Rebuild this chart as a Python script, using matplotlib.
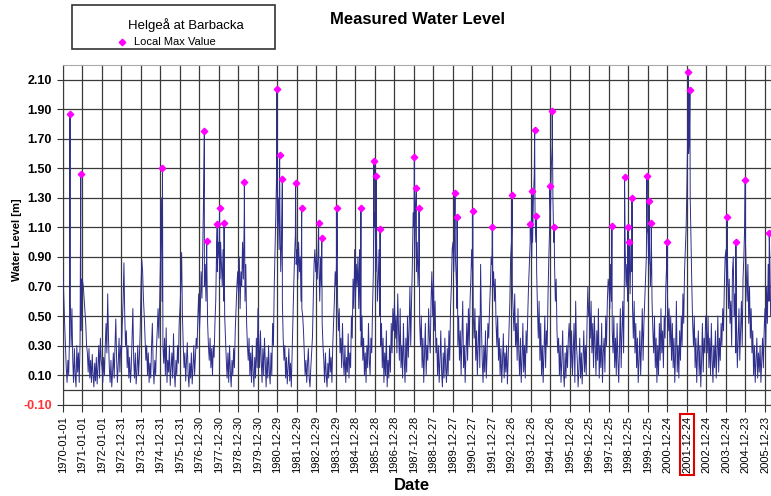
import numpy as np
import matplotlib
matplotlib.use("Agg")
import matplotlib.pyplot as plt
from matplotlib.patches import Rectangle
from matplotlib.lines import Line2D

plt.rcParams['font.family'] = ['Liberation Sans', 'DejaVu Sans']

# x tick labels (one every 365 days from 1970-01-01)
tick_labels = ['1970-01-01', '1971-01-01', '1972-01-01', '1972-12-31', '1973-12-31',
               '1974-12-31', '1975-12-31', '1976-12-30', '1977-12-30', '1978-12-30',
               '1979-12-30', '1980-12-29', '1981-12-29', '1982-12-29', '1983-12-29',
               '1984-12-28', '1985-12-28', '1986-12-28', '1987-12-28', '1988-12-27',
               '1989-12-27', '1990-12-27', '1991-12-27', '1992-12-26', '1993-12-26',
               '1994-12-26', '1995-12-26', '1996-12-25', '1997-12-25', '1998-12-25',
               '1999-12-25', '2000-12-24', '2001-12-24', '2002-12-24', '2003-12-24',
               '2004-12-23', '2005-12-23']
boxed_label = '2001-12-24'

# water level [m], two samples per month
samples_per_year = 24
water_level = [
    0.80, 0.62, 0.45, 0.30, 0.15, 0.05, 0.20, 0.10, 0.35, 0.60, 0.30, 0.55, 0.20, 0.05, 0.28, 0.10, 0.02, 0.30, 0.12, 0.25, 0.05, 0.32, 0.40, 0.75,  # 1970
    0.74, 0.70, 0.62, 0.55, 0.45, 0.30, 0.25, 0.12, 0.28, 0.08, 0.20, 0.05, 0.24, 0.10, 0.02, 0.18, 0.06, 0.22, 0.04, 0.15, 0.30, 0.08, 0.35, 0.20,  # 1971
    0.15, 0.05, 0.22, 0.10, 0.30, 0.45, 0.25, 0.65, 0.35, 0.15, 0.05, 0.20, 0.02, 0.12, 0.25, 0.08, 0.30, 0.48, 0.20, 0.05, 0.18, 0.35, 0.12, 0.30,  # 1972
    0.25, 0.45, 0.60, 0.86, 0.50, 0.30, 0.40, 0.15, 0.30, 0.08, 0.22, 0.05, 0.15, 0.35, 0.55, 0.20, 0.08, 0.25, 0.04, 0.12, 0.30, 0.10, 0.22, 0.40,  # 1973
    0.70, 0.88, 0.80, 0.62, 0.50, 0.35, 0.20, 0.30, 0.10, 0.25, 0.05, 0.18, 0.08, 0.30, 0.45, 0.15, 0.04, 0.20, 0.10, 0.28, 0.40, 0.55, 0.35, 0.60,  # 1974
    0.90, 1.30, 0.60, 0.30, 0.18, 0.35, 0.10, 0.42, 0.05, 0.20, 0.12, 0.30, 0.03, 0.15, 0.25, 0.08, 0.38, 0.12, 0.02, 0.20, 0.10, 0.30, 0.18, 0.45,  # 1975
    0.55, 0.70, 0.93, 0.50, 0.30, 0.15, 0.25, 0.06, 0.20, 0.32, 0.10, 0.02, 0.18, 0.08, 0.25, 0.04, 0.15, 0.30, 0.10, 0.22, 0.35, 0.28, 0.50, 0.65,  # 1976
    0.40, 0.55, 0.80, 0.62, 0.95, 1.30, 0.70, 0.85, 0.60, 0.90, 0.45, 0.30, 0.20, 0.35, 0.15, 0.28, 0.10, 0.30, 0.22, 0.45, 0.60, 0.95, 0.80, 1.00,  # 1977
    0.90, 0.75, 1.00, 0.85, 0.70, 0.95, 0.60, 0.50, 0.35, 0.20, 0.08, 0.25, 0.05, 0.30, 0.12, 0.02, 0.20, 0.10, 0.28, 0.15, 0.40, 0.55, 0.70, 0.80,  # 1978
    0.65, 0.90, 0.55, 0.80, 0.70, 1.00, 0.75, 1.15, 0.60, 0.85, 0.45, 0.30, 0.20, 0.35, 0.10, 0.25, 0.05, 0.30, 0.12, 0.02, 0.22, 0.08, 0.35, 0.15,  # 1979
    0.55, 0.30, 0.15, 0.40, 0.20, 0.05, 0.28, 0.10, 0.35, 0.18, 0.02, 0.22, 0.08, 0.30, 0.12, 0.04, 0.25, 0.10, 0.45, 0.30, 0.70, 0.95, 1.20, 1.50,  # 1980
    1.10, 1.30, 0.95, 1.20, 0.80, 1.00, 0.60, 0.35, 0.20, 0.30, 0.08, 0.22, 0.04, 0.15, 0.28, 0.06, 0.18, 0.02, 0.25, 0.45, 0.70, 0.90, 1.05, 0.85,  # 1981
    0.95, 0.75, 1.00, 0.80, 0.90, 0.60, 0.55, 0.50, 0.40, 0.25, 0.10, 0.20, 0.05, 0.18, 0.28, 0.08, 0.02, 0.15, 0.25, 0.35, 0.60, 0.85, 0.95, 0.80,  # 1982
    0.90, 0.75, 0.95, 0.85, 0.60, 0.90, 0.70, 0.45, 0.30, 0.20, 0.05, 0.25, 0.10, 0.02, 0.18, 0.08, 0.28, 0.12, 0.22, 0.05, 0.30, 0.45, 0.60, 0.80,  # 1983
    0.70, 0.95, 0.60, 0.40, 0.55, 0.25, 0.35, 0.15, 0.45, 0.20, 0.10, 0.30, 0.05, 0.22, 0.12, 0.38, 0.08, 0.25, 0.15, 0.50, 0.35, 0.75, 0.55, 0.95,  # 1984
    0.60, 0.85, 0.70, 0.90, 0.55, 0.95, 0.40, 0.30, 0.50, 0.20, 0.35, 0.10, 0.25, 0.05, 0.30, 0.15, 0.45, 0.20, 0.10, 0.35, 0.25, 0.55, 0.80, 1.10,  # 1985
    1.20, 0.80, 1.00, 0.60, 0.75, 0.95, 0.50, 0.30, 0.45, 0.15, 0.35, 0.05, 0.25, 0.10, 0.40, 0.02, 0.20, 0.08, 0.30, 0.12, 0.45, 0.25, 0.55, 0.40,  # 1986
    0.60, 0.35, 0.50, 0.25, 0.65, 0.40, 0.20, 0.55, 0.15, 0.30, 0.08, 0.45, 0.20, 0.05, 0.35, 0.12, 0.50, 0.22, 0.40, 0.70, 0.30, 0.60, 0.85, 1.20,  # 1987
    1.10, 0.90, 1.25, 0.80, 1.00, 0.70, 0.90, 0.45, 0.30, 0.50, 0.15, 0.35, 0.05, 0.25, 0.45, 0.10, 0.30, 0.20, 0.55, 0.35, 0.25, 0.60, 0.80, 0.50,  # 1988
    0.75, 0.40, 0.60, 0.25, 0.35, 0.10, 0.30, 0.05, 0.20, 0.40, 0.12, 0.02, 0.25, 0.08, 0.35, 0.15, 0.05, 0.28, 0.10, 0.40, 0.20, 0.55, 0.70, 0.95,  # 1989
    1.00, 0.80, 1.10, 0.90, 0.75, 0.55, 0.30, 0.50, 0.20, 0.40, 0.10, 0.35, 0.60, 0.15, 0.30, 0.05, 0.25, 0.45, 0.20, 0.55, 0.30, 0.60, 0.75, 0.95,  # 1990
    0.80, 0.50, 0.35, 0.55, 0.20, 0.40, 0.10, 0.30, 0.50, 0.15, 0.85, 0.45, 0.20, 0.05, 0.30, 0.12, 0.40, 0.08, 0.25, 0.45, 0.35, 0.55, 0.70, 0.90,  # 1991
    0.85, 0.70, 0.80, 0.60, 0.75, 0.45, 0.30, 0.50, 0.20, 0.35, 0.10, 0.28, 0.05, 0.20, 0.38, 0.08, 0.25, 0.12, 0.30, 0.04, 0.22, 0.40, 0.60, 0.90,  # 1992
    1.00, 0.70, 0.55, 0.40, 0.65, 0.30, 0.45, 0.20, 0.55, 0.25, 0.10, 0.35, 0.05, 0.20, 0.45, 0.12, 0.30, 0.08, 0.40, 0.25, 0.50, 0.70, 0.85, 1.00,  # 1993
    1.10, 0.90, 1.00, 1.30, 1.45, 1.20, 1.00, 0.80, 0.55, 0.35, 0.60, 0.20, 0.45, 0.10, 0.30, 0.05, 0.25, 0.50, 0.15, 0.40, 0.30, 0.65, 0.90, 1.10,  # 1994
    1.20, 1.50, 1.65, 1.30, 1.00, 0.85, 0.60, 0.75, 0.40, 0.25, 0.35, 0.10, 0.30, 0.05, 0.20, 0.40, 0.12, 0.02, 0.25, 0.08, 0.30, 0.15, 0.35, 0.45,  # 1995
    0.30, 0.15, 0.40, 0.10, 0.25, 0.45, 0.05, 0.60, 0.30, 0.20, 0.02, 0.15, 0.35, 0.08, 0.25, 0.04, 0.20, 0.40, 0.12, 0.30, 0.10, 0.45, 0.70, 0.50,  # 1996
    0.55, 0.35, 0.60, 0.25, 0.45, 0.15, 0.50, 0.30, 0.10, 0.40, 0.20, 0.55, 0.08, 0.30, 0.15, 0.45, 0.05, 0.25, 0.35, 0.12, 0.50, 0.30, 0.60, 0.75,  # 1997
    0.70, 0.55, 0.85, 0.60, 0.40, 0.25, 0.50, 0.15, 0.35, 0.10, 0.45, 0.20, 0.05, 0.30, 0.55, 0.15, 0.40, 0.60, 0.25, 0.80, 0.95, 0.70, 0.85, 0.60,  # 1998
    0.75, 0.90, 0.65, 1.00, 0.80, 0.55, 0.35, 0.60, 0.25, 0.45, 0.15, 0.35, 0.05, 0.20, 0.40, 0.10, 0.30, 0.55, 0.20, 0.45, 0.60, 0.75, 0.90, 1.10,  # 1999
    1.05, 0.85, 1.00, 0.70, 0.90, 0.60, 0.40, 0.25, 0.50, 0.15, 0.35, 0.05, 0.30, 0.10, 0.45, 0.20, 0.55, 0.25, 0.40, 0.15, 0.50, 0.35, 0.70, 0.85,  # 2000
    0.65, 0.40, 0.55, 0.30, 0.50, 0.20, 0.45, 0.15, 0.35, 0.05, 0.25, 0.60, 0.12, 0.30, 0.08, 0.40, 0.20, 0.50, 0.30, 0.65, 0.45, 0.80, 0.95, 1.10,  # 2001
    1.40, 1.80, 1.60, 1.70, 1.30, 1.00, 0.70, 0.45, 0.30, 0.50, 0.15, 0.35, 0.05, 0.25, 0.40, 0.10, 0.30, 0.02, 0.20, 0.45, 0.12, 0.35, 0.25, 0.50,  # 2002
    0.40, 0.25, 0.50, 0.15, 0.35, 0.10, 0.45, 0.20, 0.05, 0.30, 0.15, 0.40, 0.08, 0.25, 0.50, 0.12, 0.35, 0.20, 0.45, 0.30, 0.55, 0.40, 0.70, 0.90,  # 2003
    0.95, 0.70, 0.85, 0.55, 0.75, 0.45, 0.60, 0.30, 0.80, 0.90, 0.50, 0.65, 0.25, 0.45, 0.15, 0.35, 0.55, 0.20, 0.40, 0.60, 0.30, 0.75, 0.90, 1.10,  # 2004
    1.00, 0.80, 0.60, 0.85, 0.45, 0.70, 0.35, 0.55, 0.25, 0.40, 0.10, 0.30, 0.05, 0.20, 0.35, 0.08, 0.25, 0.12, 0.30, 0.05, 0.20, 0.35, 0.15, 0.40,  # 2005
    0.55, 0.30, 0.70, 0.45, 0.85, 0.60, 0.90, 0.50,  # 2006
]

# local maxima: day number since 1970-01-01 and level [m]
max_day = [131, 332, 1862, 2646, 2690, 2887, 2931, 3015, 3395, 4000,
           4055, 4106, 4354, 4468, 4785, 4844, 5128, 5577, 5822, 5866,
           5935, 6577, 6614, 6665, 7337, 7377, 7669, 8037, 8410, 8745,
           8786, 8829, 8859, 9114, 9158, 9194, 10275, 10512, 10570, 10600,
           10651, 10932, 10976, 11012, 11304, 11706, 11735, 12436, 12596, 12771,
           13220]
max_level = [1.87, 1.46, 1.50, 1.75, 1.01, 1.12, 1.23, 1.13, 1.41, 2.04,
             1.59, 1.43, 1.40, 1.23, 1.13, 1.03, 1.23, 1.23, 1.55, 1.45,
             1.09, 1.58, 1.37, 1.23, 1.33, 1.17, 1.21, 1.10, 1.32, 1.12,
             1.35, 1.76, 1.18, 1.38, 1.89, 1.10, 1.11, 1.44, 1.10, 1.00,
             1.30, 1.45, 1.28, 1.13, 1.00, 2.15, 2.03, 1.17, 1.00, 1.42,
             1.06]

# sample days, then merge the peaks into the line
days = np.arange(len(water_level)) * 365 / samples_per_year
x = np.concatenate([days, max_day])
y = np.concatenate([water_level, max_level])
order = np.argsort(x, kind='stable')
x, y = x[order], y[order]

W, H = 771, 496
fig = plt.figure(figsize=(W / 100, H / 100), dpi=100)
ax = fig.add_axes([63 / W, 1 - 404.6 / H, 1 - 63 / W, (404.6 - 65) / H])

ax.plot(x, y, color='#2E2E8C', lw=0.7, zorder=3)
ax.plot(max_day, max_level, 'D', color='#FF00FF', ms=3.3, zorder=4, clip_on=False)

ax.set_xlim(0, 13253)
ax.set_ylim(-0.10, 2.20)

yt = np.arange(-0.10, 2.11, 0.2)
ax.set_yticks(yt)
ax.set_yticklabels(['%.2f' % v for v in yt], fontweight='bold', fontsize=9)
ax.get_yticklabels()[0].set_color('#FF3333')
ax.set_xticks(np.arange(len(tick_labels)) * 365)
ax.set_xticklabels(tick_labels, rotation=90, fontsize=8)
for lab in ax.get_xticklabels():
    if lab.get_text() == boxed_label:
        lab.set_bbox(dict(facecolor='none', edgecolor='#E00000', lw=1.5, pad=1.5))

ax.tick_params(axis='y', length=4, pad=4, color='#333333')
ax.tick_params(axis='x', length=5, pad=3, color='#333333')
ax.grid(True, color='#3a3a3a', lw=0.9, zorder=1)
ax.axhline(0, color='#3a3a3a', lw=0.9, zorder=1)
ax.set_axisbelow(True)

ax.spines['right'].set_visible(False)
ax.spines['top'].set_color('#aaaaaa')
ax.spines['left'].set_color('#3a3a3a')
ax.spines['bottom'].set_color('#3a3a3a')

# legend box drawn by hand
fig.add_artist(Rectangle((72 / W, 1 - 49 / H), 203 / W, 44 / H, transform=fig.transFigure,
                         fill=False, edgecolor='#333333', lw=1.2))
fig.text(186 / W, 1 - 25 / H, 'Helgeå at Barbacka', ha='center', va='center', fontsize=9.5)
fig.add_artist(Line2D([122 / W], [1 - 42 / H], marker='D', color='#FF00FF', ms=3.3,
                      transform=fig.transFigure))
fig.text(134 / W, 1 - 42 / H, 'Local Max Value', ha='left', va='center', fontsize=8)

fig.text(417 / W, 1 - 20 / H, 'Measured Water Level', ha='center', va='center',
         fontsize=12, fontweight='bold')
fig.text(412 / W, 1 - 486 / H, 'Date', ha='center', va='center', fontsize=12, fontweight='bold')
fig.text(17 / W, 1 - 240 / H, 'Water Level [m]', ha='center', va='center', rotation=90,
         fontsize=8, fontweight='bold')

fig.savefig('out.png', dpi=100)
